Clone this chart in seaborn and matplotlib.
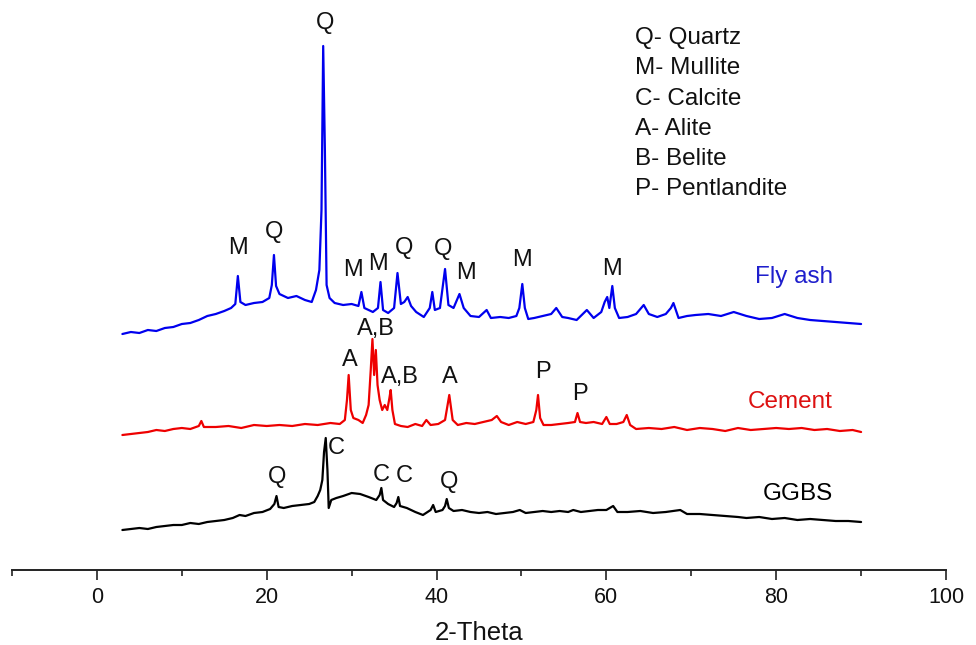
import pandas as pd
import seaborn as sns
import matplotlib.pyplot as plt

# ====================
# Data (intensity, traces already offset)
# ====================

fly_x = [3.0, 4, 5, 6, 7, 8, 9, 10, 11, 12, 13, 14, 15, 15.8, 16.3, 16.6, 16.9, 17.5, 18.5, 19.5,
         20.3, 20.6, 20.85, 21.1, 21.5, 22.5, 23.5, 24.5, 25.3, 25.8, 26.2, 26.45, 26.65, 26.85, 27.05,
         27.4, 28, 29, 30, 30.8, 31.15, 31.5, 32.5, 33.1, 33.4, 33.7, 34.3, 35.0, 35.4, 35.8, 36.2,
         36.6, 37.0, 37.6, 38.5, 39.2, 39.5, 39.8, 40.4, 41.0, 41.4, 42.0, 42.7, 43.2, 44, 45, 45.9,
         46.4, 47.5, 48.5, 49.4, 49.75, 50.1, 50.4, 50.8, 51.5, 52.5, 53.5, 54.1, 54.8, 55.5, 56.5,
         57.7, 58.5, 59.4, 59.8, 60.1, 60.35, 60.7, 61.0, 61.5, 62.5, 63.5, 64.4, 65, 66, 67, 67.6,
         67.9, 68.5, 69.5, 70.5, 72, 73.5, 75, 76.5, 78, 79.5, 81, 82.5, 84, 85.5, 87, 88.5, 90]
fly_y = [236, 238, 237, 240, 239, 242, 243, 246, 247, 250, 254, 256, 259, 262, 266, 294, 268, 265, 267, 268,
         272, 285, 315, 284, 276, 272, 274, 270, 268, 280, 300, 360, 524, 420, 285,
         272, 267, 265, 266, 264, 278, 262, 258, 262, 288, 260, 257, 262, 297, 266, 268,
         273, 264, 258, 253, 262, 278, 260, 262, 301, 265, 262, 276, 262, 254, 253, 260,
         252, 253, 252, 254, 262, 286, 262, 251, 252, 254, 256, 262, 253, 252, 250,
         260, 252, 258, 268, 273, 262, 284, 262, 252, 253, 256, 265, 256, 253, 256, 262,
         267, 252, 254, 255, 256, 254, 258, 254, 251, 252, 256, 252, 250, 249, 248, 247, 246]

cem_x = [3.0, 4, 5, 6, 7, 8, 9, 10, 11, 12, 12.3, 12.6, 14, 15.5, 17, 18.5, 20, 21.5, 23, 24.5, 26,
         27.5, 28.6, 29.2, 29.45, 29.65, 29.9, 30.2, 30.8, 31.3, 31.7, 32.0, 32.25, 32.45, 32.65, 32.85,
         33.05, 33.3, 33.6, 33.9, 34.2, 34.45, 34.6, 34.8, 35.1, 35.8, 36.6, 37.5, 38.3, 38.8, 39.3,
         40.2, 41.0, 41.5, 41.9, 42.5, 43.5, 44.5, 45.5, 46.5, 47.1, 47.6, 48.5, 49.5, 50.5, 51.4,
         51.75, 51.95, 52.2, 52.6, 53.5, 54.5, 55.5, 56.3, 56.6, 56.9, 57.6, 58.5, 59.5, 60.0, 60.4,
         61.2, 62.0, 62.4, 62.8, 63.5, 65, 66.5, 68, 69.5, 71, 72.5, 74, 75.5, 77, 78.5, 80, 81.5, 83,
         84.5, 86, 87.5, 89, 90]
cem_y = [135, 136, 137, 138, 140, 139, 141, 142, 141, 144, 149, 143, 143, 144, 142, 145, 144, 145, 144, 146, 145,
         147, 146, 150, 170, 195, 160, 152, 150, 147, 155, 165, 200, 231, 195, 220,
         185, 170, 160, 165, 160, 172, 180, 160, 146, 144, 143, 146, 144, 150, 145,
         146, 150, 175, 150, 145, 147, 146, 148, 150, 154, 148, 145, 148, 146, 148,
         160, 175, 152, 145, 145, 146, 147, 148, 157, 148, 147, 148, 146, 153, 146,
         146, 148, 155, 145, 141, 142, 141, 143, 140, 142, 141, 139, 142, 140, 141, 142, 141, 142,
         140, 141, 139, 140, 138]

ggbs_x = [3.0, 4, 5, 6, 7, 8, 9, 10, 11, 12, 13, 14, 15, 16, 16.8, 17.5, 18.5, 19.5, 20.4, 20.9, 21.15,
          21.4, 22, 23, 24, 25, 25.6, 26.0, 26.3, 26.55, 26.75, 26.95, 27.15, 27.3, 27.6, 28.2, 29, 30,
          31, 32, 32.9, 33.3, 33.5, 33.7, 34.3, 35.0, 35.3, 35.5, 35.7, 36.5, 37.5, 38.4, 39.3, 39.6,
          39.9, 40.7, 41.0, 41.2, 41.45, 42, 43, 44, 45, 46, 47, 48, 49, 49.8, 50.5, 51.5, 52.5, 53.5,
          54.5, 55.5, 56.1, 57, 58, 59, 60.0, 60.8, 61.3, 62.5, 64, 65.5, 67, 68.7, 69.5, 71, 72.5, 74,
          75.5, 76.5, 78, 79.5, 81, 82.5, 84, 85.5, 87, 88.5, 90]
ggbs_y = [40, 41, 42, 41, 43, 44, 45, 45, 47, 46, 48, 49, 50, 52, 55, 54, 57, 58, 61, 66, 74,
          63, 62, 64, 65, 66, 68, 74, 80, 90, 118, 132, 100, 62, 70, 72, 74, 77,
          76, 73, 70, 75, 82, 70, 66, 63, 67, 73, 64, 62, 58, 55, 60, 65,
          58, 60, 64, 71, 62, 59, 60, 58, 57, 58, 56, 57, 58, 60, 57, 58, 59, 58,
          59, 58, 60, 58, 59, 60, 60, 64, 58, 58, 59, 57, 58, 60, 56, 56, 55, 54,
          53, 52, 53, 51, 52, 50, 51, 50, 49, 49, 48]

# peak letters: (letter, x, y)
peak_letters = ['M', 'Q', 'Q', 'M', 'M', 'Q', 'Q', 'M', 'M', 'M',
                'A', 'A,B', 'A,B', 'A', 'P', 'P',
                'Q', 'C', 'C', 'C', 'Q']
peak_x = [16.6, 20.9, 26.85, 30.2, 33.1, 36.2, 40.8, 43.5, 50.1, 60.7,
          29.8, 32.9, 35.7, 41.6, 52.5, 56.9,
          21.2, 28.2, 33.5, 36.2, 41.5]
peak_y = [322, 338, 547, 300, 306, 322, 321, 297, 310, 301,
          210, 241, 193, 193, 198, 176,
          93, 122, 95, 94, 88]

legend_lines = ['Q- Quartz', 'M- Mullite', 'C- Calcite', 'A- Alite', 'B- Belite', 'P- Pentlandite']
legend_y = [532, 502, 471, 441, 411, 381]

sample_names = ['Fly ash', 'Cement', 'GGBS']
sample_colors = ['#0000ee', '#ee0000', 'black']
sample_label_colors = ['#1f1fcc', '#dd1111', 'black']
sample_label_y = [293, 168, 76]

# ====================
# Plotting
# ====================

sns.set_style('white')
plt.rcParams['font.family'] = ['Liberation Sans', 'DejaVu Sans']
plt.rcParams['text.color'] = '#111111'

fig = plt.figure(figsize=(9.76, 6.45), dpi=100)
ax = fig.add_axes([12 / 976, 75 / 645, 934 / 976, 570 / 645])

traces = [(fly_x, fly_y), (cem_x, cem_y), (ggbs_x, ggbs_y)]
for (tx, ty), name, col in zip(traces, sample_names, sample_colors):
    df = pd.DataFrame({'two_theta': tx, 'intensity': ty})
    sns.lineplot(data=df, x='two_theta', y='intensity', ax=ax, color=col,
                 linewidth=1.6, estimator=None)

for name, col, ly in zip(sample_names, sample_label_colors, sample_label_y):
    ax.text(86.7, ly, name, color=col, fontsize=17.5, ha='right', va='center')

for lab, px, py in zip(peak_letters, peak_x, peak_y):
    ax.text(px, py, lab, fontsize=17, ha='center', va='center')

for lab, ly in zip(legend_lines, legend_y):
    ax.text(63.4, ly, lab, fontsize=17.5, ha='left', va='center')

ax.set_xlim(-10, 100)
ax.set_ylim(0, 570)
ax.set_yticks([])
ax.set_ylabel('')
for side in ['top', 'right', 'left']:
    ax.spines[side].set_visible(False)
ax.spines['bottom'].set_linewidth(1.4)
ax.spines['bottom'].set_color('#222222')

ax.set_xticks([0, 20, 40, 60, 80, 100])
ax.set_xticks([-10, 10, 30, 50, 70, 90], minor=True)
ax.tick_params(axis='x', which='both', bottom=True, direction='out', width=1.2,
               color='#222222', labelcolor='#111111')
ax.tick_params(axis='x', which='major', length=7.5, pad=5)
ax.tick_params(axis='x', which='minor', length=4)
for t in ax.get_xticklabels():
    t.set_fontsize(15.5)
ax.set_xlabel('2-Theta', fontsize=18.5, labelpad=9, color='#111111')

fig.savefig('out.png', dpi=100)
